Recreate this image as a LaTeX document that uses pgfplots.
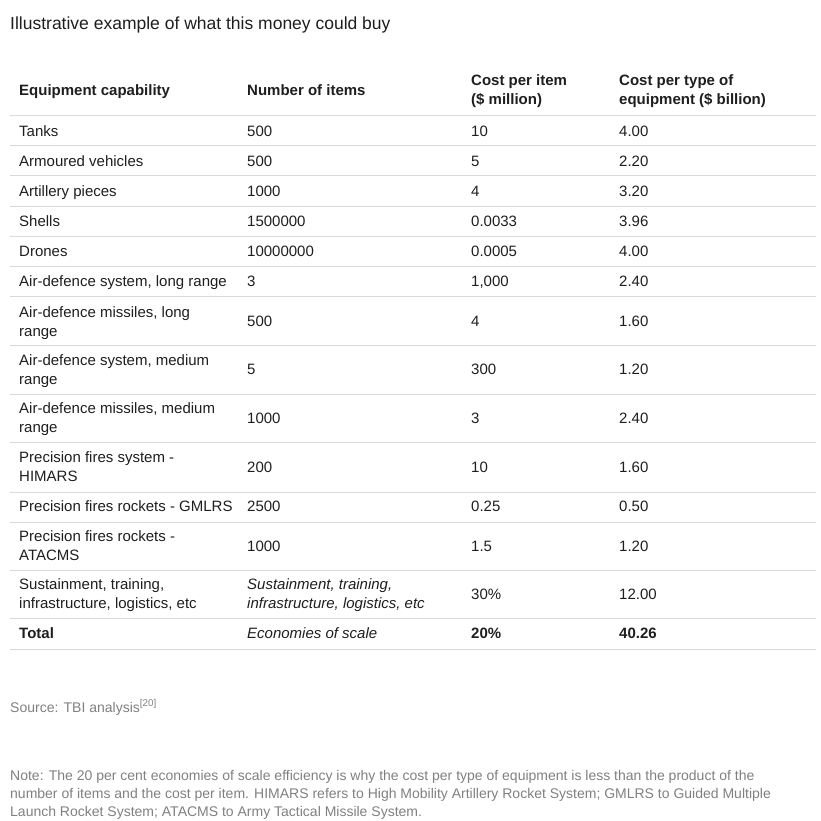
\documentclass[border=0pt]{standalone}
\usepackage{fontspec}
\setmainfont{Liberation Sans}
\usepackage{pgfplots}
\pgfplotsset{compat=1.18}
\definecolor{txt}{HTML}{1E1E1E}
\definecolor{rulecol}{HTML}{D9D9D9}
\definecolor{grey}{HTML}{808080}
\newcommand{\cell}[3]{\node[anchor=base west,inner sep=0pt,text=txt,font=\fontsize{15}{18}\selectfont] at (axis cs:#1,#2) {#3};}
\newcommand{\hrow}[1]{\addplot[rulecol,line width=1pt] coordinates {(10,#1) (816,#1)};}
\begin{document}
\begin{tikzpicture}
\begin{axis}[scale only axis, width=820pt, height=821pt,
  xmin=0, xmax=820, ymin=0, ymax=821, y dir=reverse,
  axis lines=none, clip=false]
\addplot[draw=none] coordinates {(0,0) (820,821)};
% rules
\hrow{116}\hrow{146}\hrow{176}\hrow{206}\hrow{236}\hrow{266}\hrow{296}
\hrow{345}\hrow{394}\hrow{442}\hrow{492}\hrow{522}\hrow{570}\hrow{618}\hrow{649}
% title
\node[anchor=base west,inner sep=0pt,text=txt,font=\fontsize{17.5}{20}\selectfont] at (axis cs:10,30) {Illustrative example of what this money could buy};
% header
\cell{19}{95.5}{\bfseries Equipment capability}
\cell{247}{95.5}{\bfseries Number of items}
\cell{471}{85.5}{\bfseries Cost per item}
\cell{471}{104.5}{\bfseries (\$ million)}
\cell{619}{85.5}{\bfseries Cost per type of}
\cell{619}{104.5}{\bfseries equipment (\$ billion)}
% rows
\cell{19}{136.5}{Tanks}\cell{247}{136.5}{500}\cell{471}{136.5}{10}\cell{619}{136.5}{4.00}
\cell{19}{166.5}{Armoured vehicles}\cell{247}{166.5}{500}\cell{471}{166.5}{5}\cell{619}{166.5}{2.20}
\cell{19}{196.5}{Artillery pieces}\cell{247}{196.5}{1000}\cell{471}{196.5}{4}\cell{619}{196.5}{3.20}
\cell{19}{226.5}{Shells}\cell{247}{226.5}{1500000}\cell{471}{226.5}{0.0033}\cell{619}{226.5}{3.96}
\cell{19}{256.5}{Drones}\cell{247}{256.5}{10000000}\cell{471}{256.5}{0.0005}\cell{619}{256.5}{4.00}
\cell{19}{286.5}{Air-defence system, long range}\cell{247}{286.5}{3}\cell{471}{286.5}{1,000}\cell{619}{286.5}{2.40}
\cell{19}{317.5}{Air-defence missiles, long}\cell{19}{336}{range}\cell{247}{326}{500}\cell{471}{326}{4}\cell{619}{326}{1.60}
\cell{19}{365.5}{Air-defence system, medium}\cell{19}{384.5}{range}\cell{247}{374.5}{5}\cell{471}{374.5}{300}\cell{619}{374.5}{1.20}
\cell{19}{413.5}{Air-defence missiles, medium}\cell{19}{432.5}{range}\cell{247}{423.5}{1000}\cell{471}{423.5}{3}\cell{619}{423.5}{2.40}
\cell{19}{462.5}{Precision fires system -}\cell{19}{481.5}{HIMARS}\cell{247}{472.5}{200}\cell{471}{472.5}{10}\cell{619}{472.5}{1.60}
\cell{19}{511.5}{Precision fires rockets - GMLRS}\cell{247}{511.5}{2500}\cell{471}{511.5}{0.25}\cell{619}{511.5}{0.50}
\cell{19}{541.5}{Precision fires rockets -}\cell{19}{560.5}{ATACMS}\cell{247}{551.5}{1000}\cell{471}{551.5}{1.5}\cell{619}{551.5}{1.20}
\cell{19}{589.5}{Sustainment, training,}\cell{19}{608.5}{infrastructure, logistics, etc}
\cell{247}{589.5}{\itshape Sustainment, training,}\cell{247}{608.5}{\itshape infrastructure, logistics, etc}
\cell{471}{599.5}{30\%}\cell{619}{599.5}{12.00}
\cell{19}{638.5}{\bfseries Total}\cell{247}{638.5}{\itshape Economies of scale}\cell{471}{638.5}{\bfseries 20\%}\cell{619}{638.5}{\bfseries 40.26}
% source and note
\node[anchor=base west,inner sep=0pt,text=grey,font=\fontsize{14}{17}\selectfont] at (axis cs:10,712) {Source: TBI analysis\textsuperscript{[20]}};
\node[anchor=base west,inner sep=0pt,text=grey,font=\fontsize{14}{17}\selectfont] at (axis cs:10,780) {Note: The 20 per cent economies of scale efficiency is why the cost per type of equipment is less than the product of the};
\node[anchor=base west,inner sep=0pt,text=grey,font=\fontsize{14}{17}\selectfont] at (axis cs:10,798) {number of items and the cost per item. HIMARS refers to High Mobility Artillery Rocket System; GMLRS to Guided Multiple};
\node[anchor=base west,inner sep=0pt,text=grey,font=\fontsize{14}{17}\selectfont] at (axis cs:10,816) {Launch Rocket System; ATACMS to Army Tactical Missile System.};
\end{axis}
\end{tikzpicture}
\end{document}
